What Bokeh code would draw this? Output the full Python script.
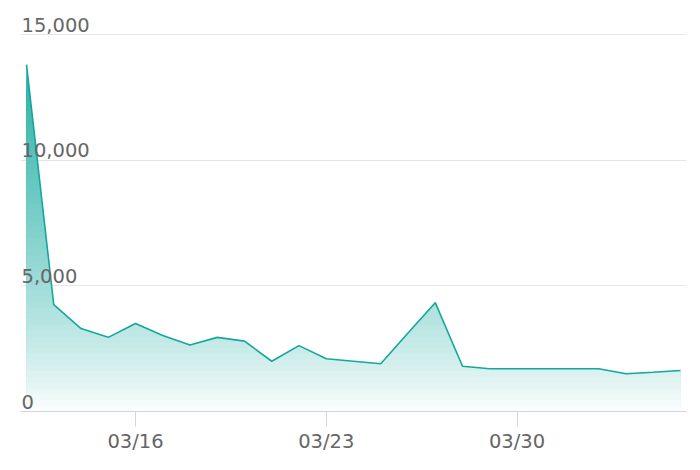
import numpy as np
import pandas as pd
from bokeh.plotting import figure
from bokeh.models import FixedTicker, DatetimeTickFormatter, Range1d
from bokeh.core.properties import value
from bokeh.embed import file_html
from bokeh.resources import INLINE

# ---- data ----
dates = pd.date_range("2024-03-12", "2024-04-05", freq="D")
values = [13800, 4250, 3300, 2950, 3500, 3020, 2650, 2950, 2800, 2000,
          2620, 2100, 2000, 1900, 3120, 4330, 1800, 1700, 1700, 1700,
          1700, 1700, 1500, 1560, 1630]
x_tick_dates = ["2024-03-16", "2024-03-23", "2024-03-30"]
y_ticks = [0, 5000, 10000, 15000]
y_tick_labels = ["0", "5,000", "10,000", "15,000"]

LINE = "#14a89d"
TEAL = (19, 168, 158)
FONT = "DejaVu Sans"

xs = dates.values.astype("datetime64[ms]").astype(np.int64).astype(float)
vs = np.array(values, dtype=float)
day = 86400000.0

p = figure(width=698, height=463, x_axis_type="datetime", y_axis_location=None,
           output_backend="svg", toolbar_location=None,
           min_border_left=20, min_border_right=12, min_border_top=10,
           min_border_bottom=52)
p.x_range = Range1d(xs[0] - 0.22 * day, xs[-1] + 0.22 * day)
p.y_range = Range1d(0, 15955)
p.outline_line_color = None
p.background_fill_color = "white"
p.border_fill_color = "white"

# grid
p.xgrid.visible = False
p.ygrid.ticker = FixedTicker(ticks=y_ticks[1:])
p.ygrid.grid_line_color = "#e6e6e6"
p.ygrid.grid_line_width = 1

# x axis
xa = p.xaxis[0]
xa.ticker = FixedTicker(ticks=[pd.Timestamp(d).value / 1e6 for d in x_tick_dates])
xa.formatter = DatetimeTickFormatter(days="%m/%d", months="%m/%d", hours="%m/%d")
xa.axis_line_color = "#ccd6eb"
xa.axis_line_width = 1
xa.major_tick_line_color = "#ccd6eb"
xa.major_tick_in = 0
xa.major_tick_out = 15
xa.minor_tick_line_color = None
xa.major_label_text_font = FONT
xa.major_label_text_font_size = "19.5px"
xa.major_label_text_color = "#666666"
xa.major_label_standoff = 3

# gradient area: stacked clipped areas, opaque blended with white
vmax = vs.max()
n_bands = 60
levels = np.linspace(0, vmax, n_bands + 1)[1:]
for i in range(n_bands - 1, -1, -1):
    L = levels[i]
    bx, bv = [xs[0]], [vs[0]]
    for k in range(len(xs) - 1):
        xa_, xb_, va_, vb_ = xs[k], xs[k + 1], vs[k], vs[k + 1]
        if (va_ - L) * (vb_ - L) < 0:
            t = (L - va_) / (vb_ - va_)
            bx.append(xa_ + t * (xb_ - xa_))
            bv.append(L)
        bx.append(xb_)
        bv.append(vb_)
    top = np.minimum(np.array(bv), L)
    center = (L - vmax / n_bands / 2) / vmax
    a = 0.9 * max(center, 0) ** 0.8
    r, g, b = [int(round(255 * (1 - a) + c * a)) for c in TEAL]
    p.varea(x=bx, y1=np.zeros(len(bx)), y2=top,
            fill_color="#%02x%02x%02x" % (r, g, b), fill_alpha=1.0)

p.line(xs, vs, line_color=LINE, line_width=1.6)

# y tick labels drawn inside the plot, above gridlines
p.text(x=[p.x_range.start] * len(y_ticks), y=y_ticks, text=y_tick_labels,
       x_offset=1, y_offset=-3, text_baseline="bottom", text_align="left",
       text_font=value(FONT), text_font_size="19.5px", text_color="#666666")

open("out.html", "w").write(file_html(p, INLINE))
